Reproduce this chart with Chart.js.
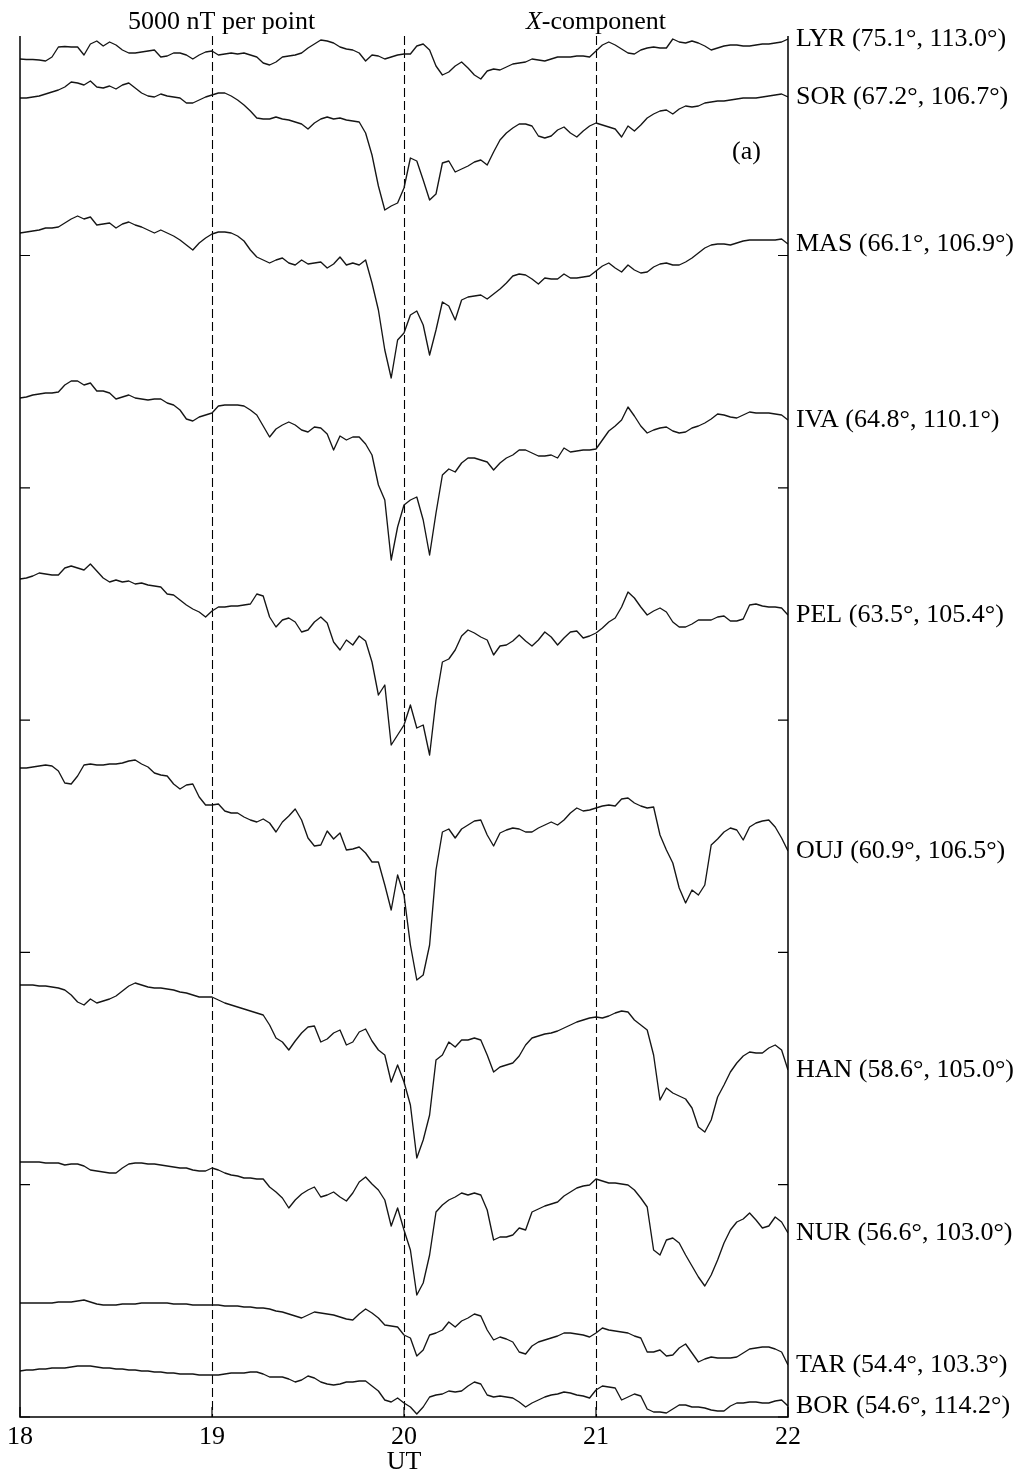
<!DOCTYPE html>
<html>
<head>
<meta charset="utf-8">
<script src="https://cdn.jsdelivr.net/npm/chart.js@4.4.1/dist/chart.umd.min.js"></script>
<style>
  html, body { margin: 0; padding: 0; background: #fff; overflow: hidden; }
  canvas { display: block; }
</style>
</head>
<body>
<canvas id="magChart" width="1021" height="1474"></canvas>
<script>
// time axis: minutes after 18:00 UT, 2-min samples
const minutes = [0,2,4,6,8,10,12,14,16,18,20,22,24,26,28,30,32,34,36,38,40,42,44,46,48,50,52,54,56,58,
  60,62,64,66,68,70,72,74,76,78,80,82,84,86,88,90,92,94,96,98,100,102,104,106,108,110,112,114,116,118,
  120,122,124,126,128,130,132,134,136,138,140,142,144,146,148,150,152,154,156,158,160,162,164,166,168,170,172,174,176,178,
  180,182,184,186,188,190,192,194,196,198,200,202,204,206,208,210,212,214,216,218,220,222,224,226,228,230,232,234,236,238,240];

const stations = ['LYR (75.1°, 113.0°)', 'SOR (67.2°, 106.7°)', 'MAS (66.1°, 106.9°)', 'IVA (64.8°, 110.1°)',
  'PEL (63.5°, 105.4°)', 'OUJ (60.9°, 106.5°)', 'HAN (58.6°, 105.0°)', 'NUR (56.6°, 103.0°)',
  'TAR (54.4°, 103.3°)', 'BOR (54.6°, 114.2°)'];

// stacking offset of each trace (nT)
const baselines = [13580, 13190, 11840, 10190, 8380, 6490, 4320, 2550, 1140, 460];

// X-component deviations from the 18 UT level (nT)
const lyr = [0,-5,-5,-10,-20,20,120,125,120,120, 40,150,180,130,170,140,90,60,60,70, 80,90,20,30,60,60,40,0,40,70,
  80,40,50,60,50,60,40,20,-40,-60, -30,20,30,40,60,110,150,190,180,160, 120,100,90,60,-20,40,30,0,20,40,
  50,50,130,150,90,-70,-160,-130,-70,-30, -90,-160,-200,-120,-100,-110,-80,-50,-40,-30, 0,-10,-20,0,20,20,20,30,30,20,
  80,140,170,140,100,60,50,90,110,120, 110,110,200,170,160,180,160,130,90,110, 130,140,140,130,130,140,150,150,160,170,200];
const sor = [0,0,10,20,40,60,80,110,160,150, 130,170,110,100,120,90,130,150,100,50, 20,10,40,20,10,0,-50,-50,-20,10,
  30,50,50,20,-20,-70,-130,-200,-210,-210, -190,-210,-220,-240,-260,-310,-250,-210,-190,-210, -200,-220,-230,-240,-350,-570,-880,-1120,-1080,-1050,
  -900,-600,-630,-820,-1020,-960,-650,-630,-740,-710, -680,-640,-620,-670,-540,-420,-350,-300,-260,-260, -280,-380,-400,-380,-320,-290,-350,-390,-330,-280,
  -250,-270,-290,-310,-390,-280,-330,-270,-200,-160, -130,-120,-160,-110,-80,-90,-80,-50,-40,-30, -30,-20,-10,0,0,0,10,20,30,40,10];
const mas = [0,10,20,30,50,50,60,100,140,170, 140,160,80,90,100,50,90,110,80,60, 30,0,30,0,-30,-70,-120,-170,-100,-50,
  -10,10,10,0,-30,-80,-170,-240,-270,-300, -270,-250,-300,-320,-270,-310,-300,-290,-350,-310, -240,-320,-300,-320,-270,-500,-770,-1170,-1450,-1070,
  -1000,-820,-780,-920,-1220,-970,-690,-730,-870,-670, -640,-630,-620,-660,-610,-560,-500,-430,-410,-420, -460,-510,-450,-460,-460,-410,-450,-450,-440,-430,
  -380,-330,-300,-350,-390,-320,-370,-400,-390,-340, -310,-300,-320,-320,-290,-250,-200,-150,-120,-110, -110,-120,-100,-80,-70,-70,-70,-70,-70,-60,-110];
const iva = [0,10,30,40,50,50,60,130,170,170, 130,150,70,70,50,-10,10,30,0,-10, -20,-10,-10,-50,-70,-120,-210,-230,-190,-170,
  -150,-80,-70,-70,-70,-80,-120,-170,-280,-390, -310,-270,-240,-270,-320,-340,-290,-300,-360,-520, -380,-420,-390,-390,-460,-570,-870,-1020,-1620,-1290,
  -1070,-1020,-990,-1220,-1570,-1150,-770,-710,-740,-650, -600,-600,-620,-640,-720,-650,-600,-570,-520,-520, -550,-580,-580,-570,-600,-500,-540,-530,-520,-520,
  -510,-420,-330,-280,-220,-90,-180,-280,-350,-320, -300,-290,-330,-350,-340,-300,-280,-250,-210,-160, -170,-190,-200,-170,-140,-150,-150,-150,-160,-170,-220];
const pel = [0,10,30,60,50,40,40,110,130,110, 90,150,80,10,-30,-10,-30,-20,-50,-40, -60,-70,-80,-150,-160,-210,-260,-300,-330,-380,
  -320,-280,-280,-270,-270,-260,-250,-150,-170,-380, -480,-410,-390,-430,-530,-510,-430,-380,-440,-630, -710,-610,-660,-570,-620,-830,-1160,-1060,-1660,-1560,
  -1460,-1260,-1490,-1460,-1760,-1210,-830,-800,-710,-570, -510,-540,-580,-610,-760,-670,-660,-620,-560,-620, -670,-610,-530,-580,-660,-590,-530,-520,-590,-570,
  -540,-490,-430,-390,-280,-130,-190,-280,-360,-320, -290,-330,-430,-480,-480,-450,-410,-410,-410,-380, -370,-420,-420,-400,-260,-250,-270,-280,-280,-290,-360];
const ouj = [0,0,10,20,30,20,-30,-150,-160,-80, 30,40,30,30,40,40,50,70,80,40, 10,-50,-70,-80,-160,-210,-170,-160,-290,-370,
  -370,-360,-430,-450,-450,-490,-520,-540,-510,-550, -640,-540,-480,-410,-520,-700,-780,-770,-630,-710, -650,-820,-810,-790,-850,-940,-940,-1170,-1420,-1070,
  -1270,-1770,-2120,-2070,-1770,-1020,-640,-610,-700,-610, -570,-530,-520,-670,-780,-650,-620,-600,-610,-640, -640,-600,-570,-540,-570,-520,-450,-400,-430,-420,
  -400,-380,-370,-380,-310,-300,-350,-380,-400,-390, -670,-820,-950,-1200,-1350,-1220,-1270,-1170,-770,-710, -640,-600,-620,-720,-590,-550,-530,-520,-590,-700,-830];
const han = [0,0,0,-10,-10,-20,-30,-50,-100,-170, -200,-140,-180,-160,-140,-110,-60,-10,20,0, -20,-30,-30,-40,-50,-70,-80,-100,-120,-120,
  -120,-150,-180,-200,-220,-240,-260,-280,-300,-400, -530,-570,-650,-560,-480,-420,-410,-570,-540,-480, -450,-600,-570,-470,-440,-560,-650,-700,-970,-800,
  -970,-1200,-1730,-1550,-1300,-750,-700,-570,-620,-550, -550,-530,-550,-700,-870,-820,-800,-780,-710,-600, -530,-510,-490,-480,-460,-430,-400,-370,-350,-330,
  -320,-330,-310,-280,-260,-270,-350,-400,-450,-700, -1150,-1030,-1080,-1110,-1140,-1230,-1420,-1470,-1350,-1120, -1000,-870,-780,-710,-670,-680,-680,-630,-600,-650,-850];
const nur = [0,0,0,0,-10,-10,-10,-30,-20,-20, -40,-80,-90,-100,-110,-110,-60,-20,-10,-10, -20,-20,-30,-40,-50,-60,-60,-80,-90,-90,
  -60,-80,-110,-130,-140,-160,-160,-170,-170,-250, -300,-360,-460,-380,-320,-280,-250,-350,-330,-300, -350,-390,-310,-200,-150,-220,-280,-380,-640,-460,
  -680,-880,-1330,-1210,-930,-500,-430,-380,-350,-310, -330,-310,-330,-480,-780,-750,-750,-730,-660,-680, -500,-470,-440,-420,-400,-340,-300,-260,-240,-230,
  -170,-190,-210,-210,-220,-230,-280,-360,-450,-880, -930,-780,-760,-810,-930,-1040,-1150,-1240,-1130,-980, -810,-680,-600,-570,-510,-580,-660,-640,-550,-600,-710];
const tar = [0,0,0,0,0,0,10,10,10,20, 30,10,-10,-20,-20,-20,-10,-10,-10,0, 0,0,0,0,-10,-10,-10,-20,-20,-20,
  -20,-20,-30,-30,-30,-40,-40,-50,-50,-60, -80,-90,-110,-130,-150,-120,-90,-100,-110,-120, -140,-160,-170,-110,-60,-100,-150,-220,-230,-240,
  -320,-350,-530,-470,-320,-300,-270,-190,-240,-180, -150,-110,-130,-270,-370,-340,-360,-390,-490,-510, -430,-390,-370,-350,-330,-300,-300,-310,-320,-340,
  -300,-250,-270,-280,-290,-300,-330,-350,-490,-490, -470,-530,-520,-450,-410,-500,-590,-560,-540,-550, -550,-550,-540,-500,-460,-450,-440,-440,-460,-490,-620];
const bor = [0,10,10,20,20,30,30,30,40,50, 50,50,40,30,30,20,20,10,10,0, 0,-10,-10,-20,-20,-30,-30,-30,-40,-40,
  -40,-40,-30,-20,-20,-20,-10,-10,-30,-60, -60,-60,-80,-110,-90,-50,-70,-110,-130,-140, -130,-110,-110,-100,-100,-150,-200,-290,-310,-270,
  -320,-360,-430,-360,-260,-240,-230,-200,-210,-200, -150,-110,-130,-240,-260,-250,-260,-270,-310,-360, -320,-290,-260,-240,-230,-210,-220,-240,-250,-270,
  -190,-150,-160,-170,-290,-260,-230,-250,-380,-410, -410,-420,-380,-340,-340,-360,-360,-370,-390,-400, -400,-350,-320,-320,-310,-310,-320,-320,-300,-290,-350];

const series = [lyr, sor, mas, iva, pel, ouj, han, nur, tar, bor];

const xTicks = [0, 60, 120, 180, 240];
const xTickLabels = ['18', '19', '20', '21', '22'];
const dashedAt = [60, 120, 180];
const yTicks = [0, 2323, 4646, 6969, 9292, 11615];

const serif = '"Liberation Serif", "Times New Roman", serif';

const datasets = series.map((dev, i) => ({
    label: stations[i],
    data: dev.map((d, j) => ({ x: minutes[j], y: baselines[i] + d })),
    borderColor: '#151515',
    borderWidth: 1.35,
    pointRadius: 0,
    tension: 0,
    fill: false
}));

// axes box, dashed hour lines and all text
const framePlugin = {
    id: 'frame',
    beforeDatasetsDraw(chart) {
        const { ctx, chartArea: a, scales: { x } } = chart;
        ctx.save();
        ctx.strokeStyle = '#000';
        ctx.lineWidth = 1.1;
        ctx.setLineDash([9, 4]);
        dashedAt.forEach(m => {
            const px = Math.round(x.getPixelForValue(m)) + 0.5;
            ctx.beginPath();
            ctx.moveTo(px, a.top);
            ctx.lineTo(px, a.bottom);
            ctx.stroke();
        });
        ctx.restore();
    },
    afterDraw(chart) {
        const { ctx, chartArea: a, scales: { x, y } } = chart;
        ctx.save();
        ctx.strokeStyle = '#000';
        ctx.lineWidth = 1.5;
        ctx.beginPath();
        ctx.moveTo(a.left, a.top);
        ctx.lineTo(a.left, a.bottom);
        ctx.lineTo(a.right, a.bottom);
        ctx.lineTo(a.right, a.top);
        ctx.stroke();

        // inward ticks
        ctx.lineWidth = 1.2;
        yTicks.forEach(v => {
            const py = y.getPixelForValue(v);
            ctx.beginPath();
            ctx.moveTo(a.left, py); ctx.lineTo(a.left + 10, py);
            ctx.moveTo(a.right, py); ctx.lineTo(a.right - 10, py);
            ctx.stroke();
        });
        xTicks.forEach(m => {
            const px = x.getPixelForValue(m);
            ctx.beginPath();
            ctx.moveTo(px, a.bottom); ctx.lineTo(px, a.bottom - 10);
            ctx.stroke();
        });

        ctx.fillStyle = '#000';
        ctx.font = '26px ' + serif;

        // x tick labels and axis title
        ctx.textAlign = 'center';
        ctx.textBaseline = 'middle';
        xTicks.forEach((m, i) => ctx.fillText(xTickLabels[i], x.getPixelForValue(m), a.bottom + 20));
        ctx.fillText('UT', x.getPixelForValue(120), a.bottom + 45);

        // station names at the end of each trace
        ctx.textAlign = 'left';
        chart.data.datasets.forEach(ds => {
            const last = ds.data[ds.data.length - 1];
            ctx.fillText(ds.label, a.right + 8, y.getPixelForValue(last.y));
        });

        // panel mark
        ctx.textAlign = 'center';
        ctx.fillText('(a)', x.getPixelForValue(227), y.getPixelForValue(12650));

        // header notes
        ctx.textBaseline = 'alphabetic';
        ctx.fillText('5000 nT per point', x.getPixelForValue(63), a.top - 7);
        const cx = x.getPixelForValue(180);
        ctx.font = 'italic 26px ' + serif;
        const wX = ctx.measureText('X').width;
        ctx.font = '26px ' + serif;
        const wRest = ctx.measureText('-component').width;
        const start = cx - (wX + wRest) / 2;
        ctx.textAlign = 'left';
        ctx.font = 'italic 26px ' + serif;
        ctx.fillText('X', start, a.top - 7);
        ctx.font = '26px ' + serif;
        ctx.fillText('-component', start + wX, a.top - 7);
        ctx.restore();
    }
};

new Chart(document.getElementById('magChart'), {
    type: 'line',
    data: { datasets: datasets },
    options: {
        responsive: false,
        animation: false,
        devicePixelRatio: 1,
        layout: { padding: { left: 20, right: 233, top: 36, bottom: 57 } },
        elements: { line: { borderJoinStyle: 'round' } },
        scales: {
            x: { type: 'linear', min: 0, max: 240, display: false },
            y: { type: 'linear', min: 0, max: 13810, display: false }
        },
        plugins: {
            legend: { display: false },
            tooltip: { enabled: false }
        }
    },
    plugins: [framePlugin]
});
</script>
</body>
</html>
